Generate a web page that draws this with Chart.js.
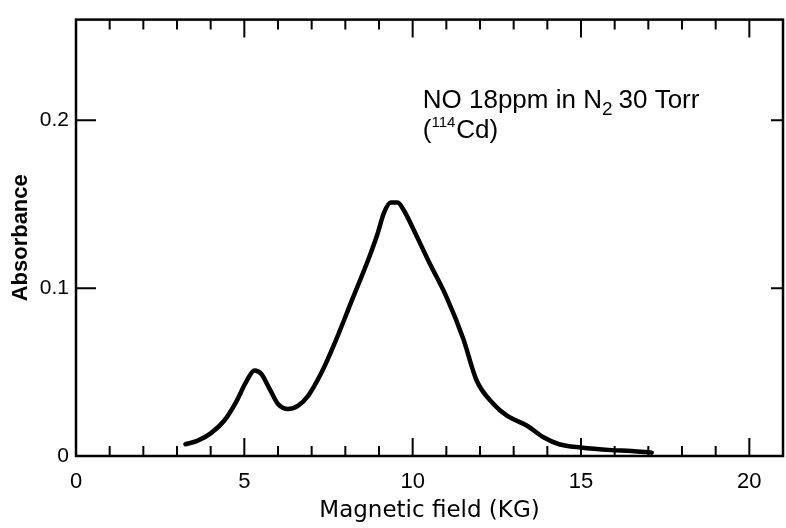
<!DOCTYPE html>
<html>
<head>
<meta charset="utf-8">
<script src="https://cdn.jsdelivr.net/npm/chart.js@4/dist/chart.umd.min.js"></script>
<style>
  body { margin: 0; background: #fff; }
  canvas { display: block; }
</style>
</head>
<body>
<canvas id="spectrum" width="786" height="528"></canvas>
<script>
// Datos (campo en kG, absorbancia)
const fieldKG = [3.25, 3.6, 4.0, 4.4, 4.75, 5.05, 5.3, 5.5, 5.75, 6.0, 6.3, 6.6, 6.9, 7.3, 7.7, 8.2, 8.7, 8.95, 9.15, 9.35, 9.55, 9.75, 10.0, 10.5, 11.0, 11.5, 11.9, 12.4, 12.8, 13.4, 13.9, 14.35, 15.0, 15.9, 16.5, 17.1];
const absorbance = [0.007, 0.009, 0.0135, 0.021, 0.032, 0.044, 0.051, 0.049, 0.040, 0.031, 0.028, 0.030, 0.036, 0.050, 0.068, 0.093, 0.118, 0.132, 0.145, 0.151, 0.151, 0.146, 0.136, 0.115, 0.095, 0.070, 0.045, 0.031, 0.024, 0.018, 0.011, 0.007, 0.005, 0.0035, 0.003, 0.002];

const xTicks = [0, 5, 10, 15, 20];
const xTickLabels = ['0', '5', '10', '15', '20'];
const yTicks = [0, 0.1, 0.2];
const yTickLabels = ['0', '0.1', '0.2'];

const fontFamily = '"Liberation Sans", Arial, sans-serif';
const wideFamily = '"DejaVu Sans", sans-serif';

// Marco y marcas hacia adentro, estilo de grafico impreso
const framePlugin = {
    id: 'frame',
    afterDraw(chart) {
        const { ctx, chartArea: a, scales: { x, y } } = chart;
        ctx.save();
        ctx.strokeStyle = '#000';
        ctx.lineWidth = 2.5;
        ctx.strokeRect(a.left, a.top, a.right - a.left, a.bottom - a.top);

        ctx.lineWidth = 2;
        ctx.beginPath();
        for (let v = 1; v <= 20; v++) {
            const px = x.getPixelForValue(v);
            const len = v % 5 === 0 ? 18 : 10;
            ctx.moveTo(px, a.bottom);
            ctx.lineTo(px, a.bottom - len);
            ctx.moveTo(px, a.top);
            ctx.lineTo(px, a.top + len);
        }
        yTicks.forEach(v => {
            if (v === 0) return;
            const py = y.getPixelForValue(v);
            ctx.moveTo(a.left, py);
            ctx.lineTo(a.left + 20, py);
            ctx.moveTo(a.right, py);
            ctx.lineTo(a.right - 12, py);
        });
        ctx.stroke();

        // Leyenda del experimento
        const tx = x.getPixelForValue(10.3);
        const ty = y.getPixelForValue(0.2);
        ctx.fillStyle = '#000';
        ctx.textBaseline = 'alphabetic';
        ctx.font = '26px ' + fontFamily;
        let cx = tx;
        const line1a = 'NO 18ppm in N';
        ctx.fillText(line1a, cx, ty - 12);
        cx += ctx.measureText(line1a).width;
        ctx.font = '19px ' + fontFamily;
        ctx.fillText('2', cx, ty - 5);
        cx += ctx.measureText('2').width + 6;
        ctx.font = '26px ' + fontFamily;
        ctx.fillText('30 Torr', cx, ty - 12);

        cx = tx;
        ctx.fillText('(', cx, ty + 18);
        cx += ctx.measureText('(').width;
        ctx.font = '15px ' + fontFamily;
        ctx.fillText('114', cx, ty + 7);
        cx += ctx.measureText('114').width + 1;
        ctx.font = '26px ' + fontFamily;
        ctx.fillText('Cd)', cx, ty + 18);
        ctx.restore();
    }
};

new Chart(document.getElementById('spectrum'), {
    type: 'line',
    data: {
        datasets: [{
            data: fieldKG.map((f, i) => ({ x: f, y: absorbance[i] })),
            borderColor: '#000',
            borderWidth: 4.5,
            pointRadius: 0,
            fill: false,
            cubicInterpolationMode: 'monotone',
            borderCapStyle: 'round',
            borderJoinStyle: 'round'
        }]
    },
    options: {
        responsive: false,
        animation: false,
        layout: { padding: { top: 19, right: 3, left: 0, bottom: 0 } },
        plugins: {
            legend: { display: false },
            tooltip: { enabled: false }
        },
        scales: {
            x: {
                type: 'linear',
                min: 0,
                max: 21,
                grid: { display: false, drawTicks: false },
                border: { display: false },
                afterBuildTicks: axis => { axis.ticks = xTicks.map(v => ({ value: v })); },
                afterFit: scale => { scale.height = 72; },
                ticks: {
                    color: '#000',
                    padding: 13,
                    maxRotation: 0,
                    autoSkip: false,
                    font: { family: fontFamily, size: 22 },
                    callback: value => xTickLabels[xTicks.indexOf(value)]
                },
                title: {
                    display: true,
                    text: 'Magnetic field (KG)',
                    color: '#000',
                    font: { family: wideFamily, size: 23 },
                    padding: { top: 0, bottom: 3 }
                }
            },
            y: {
                min: 0,
                max: 0.26,
                grid: { display: false, drawTicks: false },
                border: { display: false },
                afterBuildTicks: axis => { axis.ticks = yTicks.map(v => ({ value: v })); },
                afterFit: scale => { scale.width = 76; },
                ticks: {
                    color: '#000',
                    padding: 7,
                    autoSkip: false,
                    font: { family: fontFamily, size: 21 },
                    callback: value => yTickLabels[yTicks.indexOf(value)]
                },
                title: {
                    display: true,
                    text: 'Absorbance',
                    color: '#000',
                    font: { family: fontFamily, size: 22, weight: 'bold' },
                    padding: { top: 8, bottom: 0 }
                }
            }
        }
    },
    plugins: [framePlugin]
});
</script>
</body>
</html>
